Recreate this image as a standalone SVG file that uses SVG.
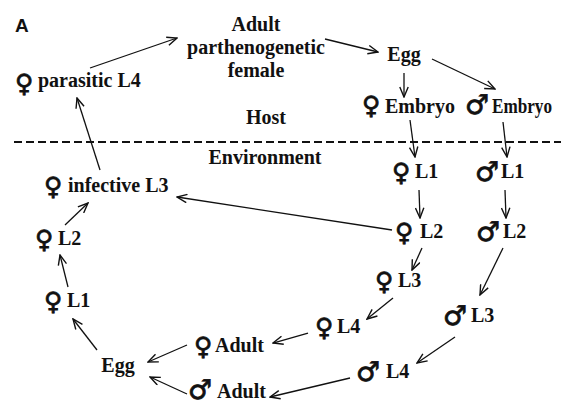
<svg xmlns="http://www.w3.org/2000/svg" width="561" height="407" viewBox="0 0 561 407">
<defs>
<marker id="arr" viewBox="0 0 12 10" refX="11" refY="5" markerWidth="12" markerHeight="10" orient="auto" markerUnits="userSpaceOnUse">
<path d="M1,0.8 L11,5 L1,9.2" fill="none" stroke="#111" stroke-width="1.4"/>
</marker>
</defs>
<style>
.t{font-family:"Liberation Serif","Times New Roman",serif;font-weight:bold;font-size:20px;fill:#111}
.f{font-family:"DejaVu Sans",sans-serif;font-weight:bold;font-size:25px;fill:#111;stroke:#111;stroke-width:0.8}
.m{font-family:"DejaVu Sans",sans-serif;font-weight:bold;font-size:27px;fill:#111;stroke:#111;stroke-width:0.8}
.c line{stroke:#111;stroke-width:1.3;marker-end:url(#arr)}
</style>
<rect width="561" height="407" fill="#fff"/>
<text x="15" y="32" style="font-family:'Liberation Sans',Arial,sans-serif;font-weight:bold;font-size:19px;fill:#111">A</text>
<line x1="14" y1="142" x2="561" y2="142" stroke="#111" stroke-width="2" stroke-dasharray="8 4"/>
<text class="t" x="266" y="124" text-anchor="middle">Host</text>
<text class="t" x="265" y="164" text-anchor="middle">Environment</text>
<g id="parasiticL4"><text class="f" x="15" y="92">♀</text><text class="t" x="38" y="87">parasitic L4</text></g>
<g id="adultFemale"><text class="t" x="256" y="31" text-anchor="middle">Adult</text><text class="t" x="256" y="54" text-anchor="middle">parthenogenetic</text><text class="t" x="256" y="77" text-anchor="middle">female</text></g>
<g id="eggTop"><text class="t" x="404" y="61" text-anchor="middle">Egg</text></g>
<g id="fEmbryo"><text class="f" x="362" y="114">♀</text><text class="t" x="385" y="113">Embryo</text></g>
<g id="mEmbryo"><text class="m" x="465" y="114">♂</text><text class="t" x="492" y="113" textLength="60" lengthAdjust="spacingAndGlyphs">Embryo</text></g>
<g id="fL1r"><text class="f" x="392" y="181">♀</text><text class="t" x="415" y="178">L1</text></g>
<g id="mL1"><text class="m" x="475" y="181">♂</text><text class="t" x="501" y="178">L1</text></g>
<g id="fL2r"><text class="f" x="395" y="241">♀</text><text class="t" x="420" y="238">L2</text></g>
<g id="mL2"><text class="m" x="476" y="241">♂</text><text class="t" x="503" y="238">L2</text></g>
<g id="fL3"><text class="f" x="375" y="290">♀</text><text class="t" x="398" y="287">L3</text></g>
<g id="mL3"><text class="m" x="443" y="325">♂</text><text class="t" x="471" y="322">L3</text></g>
<g id="fL4"><text class="f" x="315" y="336">♀</text><text class="t" x="337" y="333">L4</text></g>
<g id="mL4"><text class="m" x="356" y="381">♂</text><text class="t" x="386" y="378">L4</text></g>
<g id="fAdult"><text class="f" x="194" y="355">♀</text><text class="t" x="215" y="352">Adult</text></g>
<g id="mAdult"><text class="m" x="188" y="399">♂</text><text class="t" x="217" y="398">Adult</text></g>
<g id="eggBottom"><text class="t" x="118" y="372" text-anchor="middle">Egg</text></g>
<g id="fL1l"><text class="f" x="44" y="310">♀</text><text class="t" x="67" y="307">L1</text></g>
<g id="fL2l"><text class="f" x="35" y="248">♀</text><text class="t" x="58" y="245">L2</text></g>
<g id="infectiveL3"><text class="f" x="44" y="195">♀</text><text class="t" x="68" y="192">infective L3</text></g>
<g id="connectors" class="c">
<line x1="90" y1="68" x2="177" y2="38"/>
<line x1="100" y1="170" x2="77" y2="98"/>
<line x1="325" y1="39" x2="378" y2="52"/>
<line x1="404" y1="73" x2="404" y2="97"/>
<line x1="432" y1="59" x2="495" y2="89"/>
<line x1="410" y1="120" x2="415" y2="157"/>
<line x1="503" y1="122" x2="507" y2="157"/>
<line x1="419" y1="190" x2="420" y2="218"/>
<line x1="505" y1="190" x2="506" y2="218"/>
<line x1="392" y1="230" x2="177" y2="197"/>
<line x1="422" y1="248" x2="412" y2="270"/>
<line x1="503" y1="248" x2="480" y2="295"/>
<line x1="393" y1="298" x2="367" y2="319"/>
<line x1="455" y1="337" x2="417" y2="363"/>
<line x1="308" y1="333" x2="273" y2="343"/>
<line x1="350" y1="378" x2="270" y2="397"/>
<line x1="187" y1="345" x2="148" y2="362"/>
<line x1="187" y1="394" x2="150" y2="377"/>
<line x1="97" y1="350" x2="73" y2="319"/>
<line x1="68" y1="287" x2="60" y2="255"/>
<line x1="65" y1="225" x2="88" y2="203"/>
</g>
</svg>
